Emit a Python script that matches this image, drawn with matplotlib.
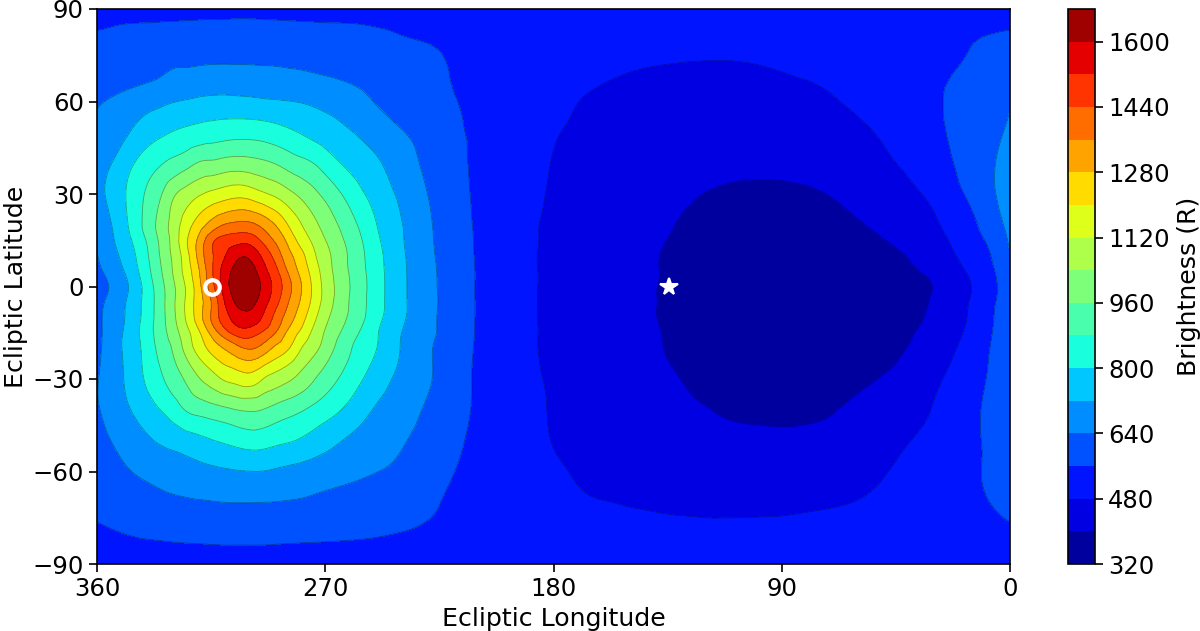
import numpy as np
import matplotlib
matplotlib.use("Agg")
import matplotlib.pyplot as plt
import matplotlib.tri as mtri

# Ecliptic longitude of each grid column (degrees), denser around the brightness peak
longitudes = [360, 350, 340, 335, 330, 325, 320, 315, 310, 305, 300, 295, 290, 285, 280, 275, 270,
              260, 250, 240, 230, 220, 210,
              200, 190, 180, 170, 160, 150, 140, 130, 120, 110, 100, 90, 80, 70, 60, 50, 40, 30, 20, 10, 0]

# Brightness in rayleigh along each line of constant ecliptic latitude (n = north, s = south)
b_n90 = [545] * 44
b_n85 = [552, 560, 562, 563, 564, 565, 566, 567, 567, 568, 568, 567, 566, 565, 564, 563, 562,
         561, 558, 555, 551, 548, 545,
         541, 538, 536, 534, 532, 531, 530, 530, 530, 530, 531, 532, 533, 535, 537, 539, 541, 543, 545, 548, 552]
b_n80 = [572, 576, 580, 582, 584, 586, 588, 589, 590, 590, 590, 589, 588, 587, 585, 583, 581,
         576, 570, 563, 558, 550, 541,
         533, 526, 520, 515, 512, 510, 508, 507, 506, 506, 507, 509, 512, 516, 521, 527, 534, 541, 551, 563, 572]
b_n70 = [590, 602, 615, 627, 644, 648, 652, 655, 656, 655, 654, 652, 650, 646, 642, 636, 630,
         618, 605, 590, 577, 557, 538,
         526, 512, 500, 492, 486, 481, 477, 474, 472, 472, 475, 481, 490, 500, 512, 525, 537, 548, 562, 575, 590]
b_n60 = [632, 660, 690, 703, 717, 725, 733, 738, 740, 738, 735, 730, 726, 722, 717, 708, 697,
         672, 636, 605, 578, 563, 545,
         525, 508, 492, 480, 473, 467, 462, 458, 454, 450, 449, 450, 455, 473, 495, 515, 535, 552, 575, 595, 632]
b_n50 = [652, 702, 763, 785, 803, 816, 828, 838, 846, 851, 851, 845, 832, 815, 797, 778, 760,
         724, 684, 645, 609, 573, 548,
         520, 502, 484, 474, 465, 458, 450, 444, 438, 434, 432, 432, 434, 442, 464, 488, 512, 545, 575, 610, 652]
b_n40 = [680, 756, 843, 873, 900, 929, 965, 975, 988, 995, 990, 977, 958, 930, 905, 882, 844,
         779, 731, 678, 626, 584, 546,
         516, 497, 478, 466, 455, 445, 435, 426, 419, 414, 412, 412, 414, 420, 435, 465, 492, 525, 570, 615, 680]
b_n30 = [695, 785, 893, 950, 1026, 1071, 1109, 1138, 1160, 1175, 1165, 1135, 1106, 1066, 1025, 983, 940,
         847, 768, 704, 642, 590, 548,
         512, 492, 474, 458, 445, 432, 420, 408, 399, 394, 392, 393, 396, 402, 415, 437, 466, 497, 550, 605, 695]
b_n20 = [662, 770, 913, 990, 1070, 1159, 1238, 1308, 1362, 1380, 1380, 1342, 1283, 1204, 1130, 1067, 1011,
         909, 803, 724, 654, 600, 550,
         508, 488, 468, 450, 434, 420, 408, 398, 390, 385, 382, 380, 382, 386, 396, 412, 435, 470, 515, 580, 662]
b_n15 = [650, 755, 892, 975, 1068, 1185, 1295, 1415, 1470, 1490, 1490, 1430, 1353, 1266, 1177, 1108, 1042,
         932, 818, 728, 656, 603, 552,
         509, 488, 467, 448, 431, 416, 405, 394, 385, 378, 373, 370, 371, 375, 383, 398, 420, 455, 500, 560, 650]
b_n10 = [638, 735, 875, 965, 1055, 1165, 1300, 1425, 1510, 1578, 1585, 1510, 1418, 1316, 1233, 1143, 1068,
         945, 830, 734, 660, 604, 553,
         510, 487, 466, 446, 428, 412, 402, 390, 380, 372, 366, 362, 362, 365, 372, 385, 403, 440, 485, 540, 638]
b_n05 = [624, 712, 860, 950, 1045, 1150, 1270, 1420, 1548, 1630, 1640, 1560, 1470, 1360, 1265, 1172, 1083,
         950, 835, 737, 664, 606, 555,
         510, 487, 467, 447, 428, 412, 402, 390, 380, 372, 365, 361, 360, 363, 368, 378, 392, 418, 468, 526, 624]
b_000 = [610, 690, 840, 930, 1025, 1125, 1250, 1400, 1550, 1650, 1668, 1590, 1500, 1397, 1293, 1190, 1095,
         957, 838, 738, 665, 607, 555,
         515, 488, 468, 448, 428, 412, 401, 390, 380, 372, 366, 362, 360, 362, 366, 374, 384, 402, 452, 516, 610]
b_s05 = [618, 704, 838, 925, 1025, 1128, 1240, 1360, 1513, 1612, 1630, 1565, 1475, 1372, 1278, 1183, 1090,
         952, 837, 738, 667, 608, 555,
         510, 487, 466, 446, 428, 412, 401, 389, 379, 371, 365, 360, 359, 361, 366, 373, 385, 407, 458, 522, 618]
b_s10 = [625, 710, 840, 925, 1020, 1125, 1240, 1365, 1480, 1555, 1575, 1520, 1425, 1330, 1243, 1150, 1063,
         945, 830, 735, 664, 607, 555,
         510, 487, 466, 446, 428, 412, 401, 388, 378, 370, 364, 360, 358, 360, 365, 373, 388, 412, 462, 528, 625]
b_s15 = [622, 718, 847, 920, 1000, 1090, 1185, 1300, 1400, 1470, 1480, 1435, 1366, 1270, 1190, 1107, 1033,
         915, 810, 721, 661, 606, 554,
         509, 487, 467, 447, 429, 414, 403, 390, 379, 370, 364, 360, 358, 360, 366, 378, 394, 425, 472, 536, 622]
b_s20 = [622, 722, 835, 905, 970, 1065, 1150, 1225, 1283, 1335, 1368, 1335, 1268, 1213, 1130, 1070, 1008,
         885, 803, 716, 652, 603, 552,
         508, 487, 467, 447, 430, 416, 404, 392, 380, 370, 364, 360, 358, 362, 370, 385, 402, 440, 485, 545, 622]
b_s30 = [635, 715, 816, 866, 917, 970, 1032, 1080, 1127, 1150, 1165, 1125, 1087, 1055, 1017, 970, 923,
         840, 762, 698, 650, 600, 549,
         510, 490, 472, 454, 438, 424, 412, 400, 388, 378, 370, 366, 366, 375, 386, 404, 425, 465, 505, 556, 635]
b_s40 = [632, 698, 766, 800, 838, 884, 908, 925, 942, 960, 968, 960, 935, 912, 890, 863, 836,
         775, 712, 672, 632, 592, 548,
         512, 492, 476, 462, 448, 434, 422, 410, 402, 392, 386, 383, 385, 396, 415, 432, 455, 484, 520, 568, 632]
b_s50 = [610, 662, 708, 730, 746, 762, 778, 795, 810, 825, 837, 834, 820, 808, 793, 772, 749,
         708, 677, 647, 615, 578, 543,
         516, 497, 478, 464, 452, 442, 433, 427, 422, 418, 416, 415, 417, 423, 436, 455, 478, 500, 530, 565, 610]
b_s60 = [590, 630, 655, 668, 680, 690, 698, 705, 711, 716, 719, 719, 712, 703, 695, 686, 677,
         660, 642, 620, 590, 563, 537,
         520, 503, 487, 476, 468, 461, 455, 450, 446, 443, 441, 441, 443, 447, 455, 475, 497, 517, 540, 563, 590]
b_s70 = [578, 595, 610, 618, 625, 630, 634, 637, 640, 641, 641, 640, 639, 636, 633, 627, 620,
         607, 594, 581, 568, 552, 534,
         518, 506, 495, 486, 481, 477, 473, 470, 468, 467, 467, 468, 471, 475, 482, 495, 510, 525, 540, 556, 578]
b_s80 = [548, 560, 568, 570, 572, 574, 575, 576, 577, 577, 577, 577, 576, 575, 574, 573, 572,
         569, 565, 559, 552, 543, 532,
         522, 514, 507, 502, 498, 495, 493, 491, 490, 490, 491, 492, 495, 498, 503, 509, 516, 523, 530, 538, 548]
b_s85 = [535, 542, 547, 549, 551, 552, 553, 554, 555, 555, 555, 555, 554, 553, 552, 551, 550,
         548, 545, 541, 536, 531, 525,
         519, 514, 510, 507, 505, 503, 502, 501, 501, 501, 502, 503, 505, 507, 510, 514, 518, 522, 526, 530, 535]
b_s90 = [525] * 44

latitudes = [90, 85, 80, 70, 60, 50, 40, 30, 20, 15, 10, 5, 0, -5, -10, -15, -20, -30, -40, -50, -60, -70, -80, -85, -90]
rows = [b_n90, b_n85, b_n80, b_n70, b_n60, b_n50, b_n40, b_n30, b_n20, b_n15, b_n10, b_n05, b_000,
        b_s05, b_s10, b_s15, b_s20, b_s30, b_s40, b_s50, b_s60, b_s70, b_s80, b_s85, b_s90]

levels = list(range(320, 1681, 80))
colorbar_ticks = list(range(320, 1601, 160))
lon_ticks = [360, 270, 180, 90, 0]
lat_ticks = [90, 60, 30, 0, -30, -60, -90]

sun_position = (314.7, 0)
star_position = (134.5, 0)

W, H = 1200, 631
fig = plt.figure(figsize=(W / 100, H / 100), dpi=100)
ax = fig.add_axes([97 / W, 1 - 564 / H, 913 / W, 555 / H])
cax = fig.add_axes([1068 / W, 1 - 564 / H, 27 / W, 555 / H])

lon_grid, lat_grid = np.meshgrid(longitudes, latitudes)
field = np.array(rows, dtype=float)

# Rounded isophotes: matplotlib's triangulation refiner draws the bands through the grid values
tri = mtri.Triangulation(lon_grid.ravel(), lat_grid.ravel())
refiner = mtri.UniformTriRefiner(tri)
fine_tri, fine_field = refiner.refine_field(field.ravel(), subdiv=3)

filled = ax.tricontourf(fine_tri, fine_field, levels=levels, cmap="jet", vmin=320, vmax=1680, extend="neither")
ax.tricontour(fine_tri, fine_field, levels=levels, colors="k", linewidths=0.6, alpha=0.35)

ax.plot(*sun_position, "o", mfc="none", mec="white", mew=3, ms=10.5)
ax.plot(*star_position, "*", color="white", ms=13, mec="white", mew=1.5)

ax.set_xlim(360, 0)
ax.set_ylim(-90, 90)
ax.set_xticks(lon_ticks)
ax.set_yticks(lat_ticks)
ax.tick_params(labelsize=17.5, length=6, width=1.2)
ax.set_xlabel("Ecliptic Longitude", fontsize=18.2, labelpad=4)
ax.set_ylabel("Ecliptic Latitude", fontsize=18.2, labelpad=3)
for spine in ax.spines.values():
    spine.set_linewidth(1.2)

cbar = fig.colorbar(filled, cax=cax, ticks=colorbar_ticks)
cbar.ax.tick_params(labelsize=17.5, length=6, width=1.2)
cbar.set_label("Brightness (R)", fontsize=18.2, labelpad=5)
cbar.outline.set_linewidth(1.2)

fig.savefig("out.png", dpi=100)
